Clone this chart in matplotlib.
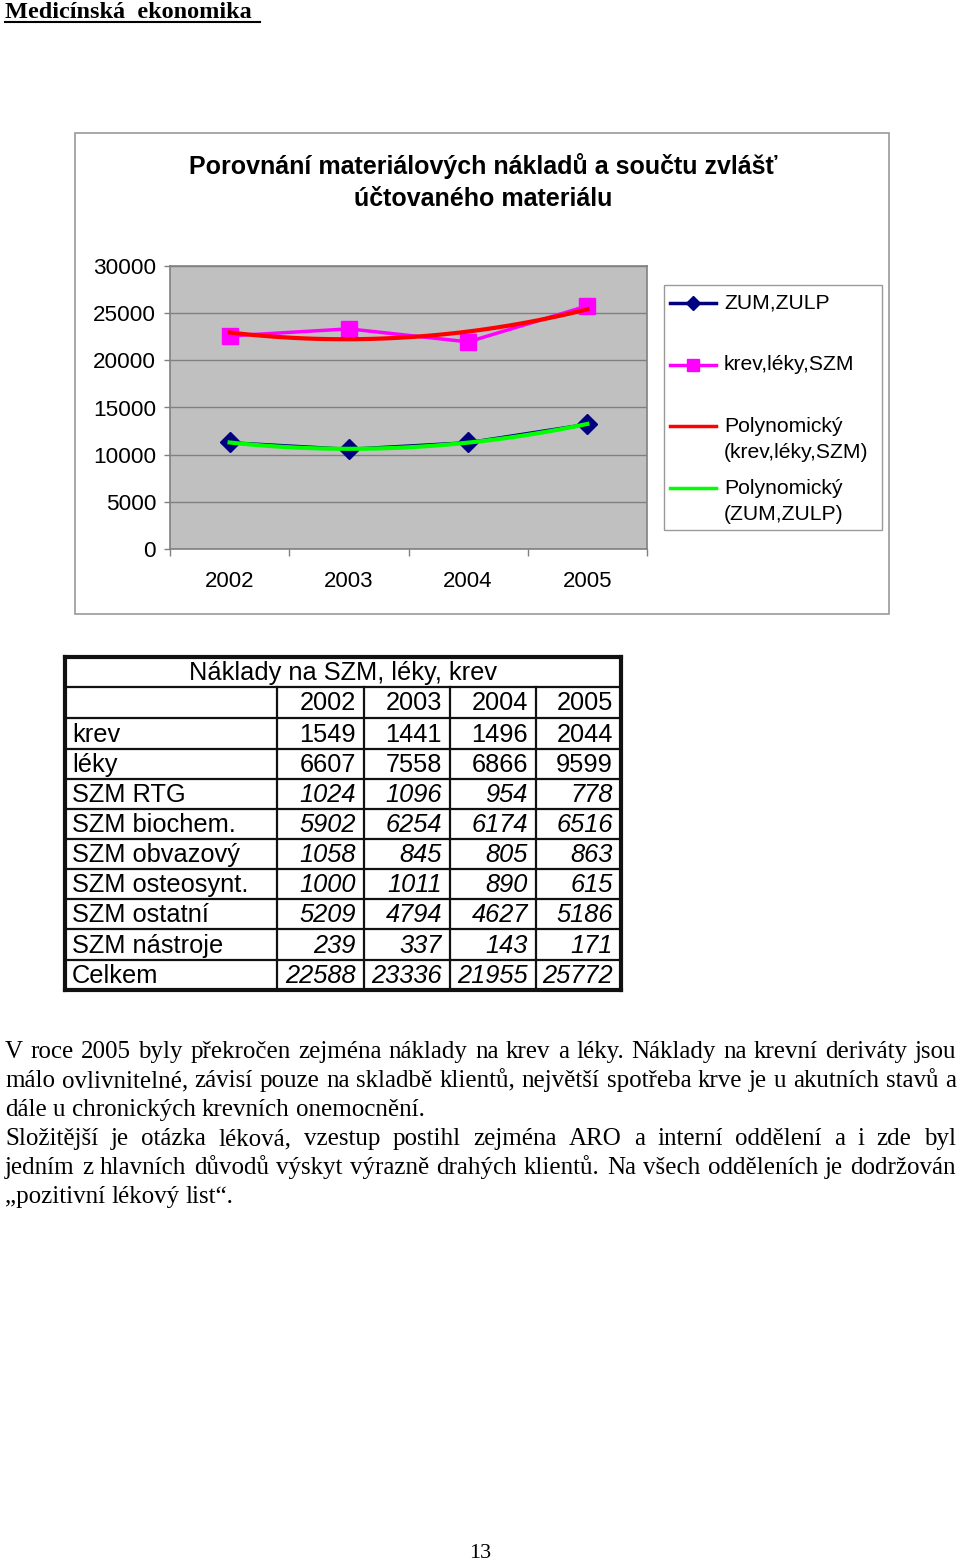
import numpy as np
import matplotlib
matplotlib.use("Agg")
import matplotlib.pyplot as plt
from matplotlib.lines import Line2D
from matplotlib.patches import Rectangle

# ---------------- data ----------------
years = ["2002", "2003", "2004", "2005"]
zum_zulp = [11300, 10600, 11300, 13250]
krev_leky_szm = [22588, 23336, 21955, 25772]
y_ticks = [0, 5000, 10000, 15000, 20000, 25000, 30000]

series_names = ["ZUM,ZULP", "krev,léky,SZM",
                "Polynomický\n(krev,léky,SZM)", "Polynomický\n(ZUM,ZULP)"]

table_title = "Náklady na SZM, léky, krev"
row_labels = ["krev", "léky", "SZM RTG", "SZM biochem.", "SZM obvazový",
              "SZM osteosynt.", "SZM ostatní", "SZM nástroje", "Celkem"]
row_krev = [1549, 1441, 1496, 2044]
row_leky = [6607, 7558, 6866, 9599]
row_rtg = [1024, 1096, 954, 778]
row_biochem = [5902, 6254, 6174, 6516]
row_obvaz = [1058, 845, 805, 863]
row_osteo = [1000, 1011, 890, 615]
row_ostatni = [5209, 4794, 4627, 5186]
row_nastroje = [239, 337, 143, 171]
row_celkem = [22588, 23336, 21955, 25772]
table_rows = [row_krev, row_leky, row_rtg, row_biochem, row_obvaz,
              row_osteo, row_ostatni, row_nastroje, row_celkem]
italic_rows = [False, False, True, True, True, True, True, True, True]

page_title = "Medicínská  ekonomika"
chart_title_lines = ["Porovnání materiálových nákladů a součtu zvlášť",
                     "účtovaného materiálu"]
paragraph_lines = [
    ("V roce 2005 byly překročen zejména náklady na krev a léky. Náklady na krevní deriváty jsou", True),
    ("málo ovlivnitelné, závisí pouze na skladbě klientů, největší spotřeba krve je u akutních stavů a", True),
    ("dále u chronických krevních onemocnění.", False),
    ("Složitější je otázka léková,  vzestup postihl zejména ARO a interní oddělení a i zde byl", True),
    ("jedním z hlavních důvodů výskyt výrazně drahých klientů. Na všech odděleních je dodržován", True),
    ("„pozitivní lékový list“.", False),
]
page_number = "13"

# ---------------- figure ----------------
W, H = 960, 1565
fig = plt.figure(figsize=(W / 100, H / 100), dpi=100)
fig.patch.set_facecolor("white")

def fx(x):
    return x / W

def fy(y):
    return 1 - y / H

SANS = "Liberation Sans"
SERIF = "Liberation Serif"

# page title
fig.text(fx(5), fy(18), page_title, fontsize=17.5, fontweight="bold",
         family=SERIF, ha="left", va="baseline")
fig.add_artist(Line2D([fx(5), fx(260)], [fy(21.5), fy(21.5)], color="black", lw=1.5))

# chart outer frame
fig.add_artist(Rectangle((fx(75), fy(614)), fx(889) - fx(75), fy(133) - fy(614),
                         transform=fig.transFigure, facecolor="white",
                         edgecolor="#9a9a9a", lw=1.2, zorder=0))

for yy, line in zip([166, 199], chart_title_lines):
    fig.text(fx(483), fy(yy), line, fontsize=18, fontweight="bold",
             family=SANS, ha="center", va="center")

# plot area
ax = fig.add_axes([fx(170), fy(549), fx(647) - fx(170), fy(266) - fy(549)])
ax.set_facecolor("#C0C0C0")
x = np.arange(len(years))
ax.set_xlim(-0.5, len(years) - 0.5)
ax.set_ylim(0, 30000)
ax.set_yticks(y_ticks)
ax.set_yticklabels([str(v) for v in y_ticks], fontsize=16.2, family=SANS)
ax.yaxis.grid(True, color="#808080", lw=1)
ax.set_axisbelow(True)
ax.set_xticks(np.arange(len(years) + 1) - 0.5)
ax.set_xticklabels([])
ax.set_xticks(x, minor=True)
ax.set_xticklabels(years, minor=True, fontsize=16, family=SANS)
ax.tick_params(axis="x", which="minor", length=0, pad=16)
ax.tick_params(axis="x", which="major", length=5, color="#808080", width=1)
ax.tick_params(axis="y", length=4, color="#808080", width=1, pad=6)
for s in ax.spines.values():
    s.set_color("#808080")
    s.set_linewidth(1.2)

ax.plot(x, zum_zulp, color="#000080", lw=2, marker="D", markersize=10,
        markerfacecolor="#000080", markeredgecolor="#000080", zorder=3)
ax.plot(x, krev_leky_szm, color="#FF00FF", lw=2.5, marker="s", markersize=12,
        markerfacecolor="#FF00FF", markeredgecolor="#FF00FF", zorder=3)

xs = np.linspace(0, len(years) - 1, 100)
p_red = np.polyfit(x, krev_leky_szm, 2)
p_green = np.polyfit(x, zum_zulp, 2)
ax.plot(xs, np.polyval(p_red, xs), color="#FF0000", lw=3, zorder=4)
ax.plot(xs, np.polyval(p_green, xs), color="#00FF00", lw=3, zorder=4)

# legend (manual)
fig.add_artist(Rectangle((fx(664), fy(530)), fx(882) - fx(664), fy(285) - fy(530),
                         transform=fig.transFigure, facecolor="white",
                         edgecolor="#9a9a9a", lw=1.0, zorder=1))
leg_items = [
    (303, "#000080", "D", 7, series_names[0]),
    (365, "#FF00FF", "s", 8, series_names[1]),
    (426, "#FF0000", None, 0, series_names[2]),
    (488, "#00FF00", None, 0, series_names[3]),
]
LFS = 15.2
for yy, col, mk, ms, lab in leg_items:
    fig.add_artist(Line2D([fx(670), fx(716)], [fy(yy), fy(yy)], color=col, lw=2.5,
                          zorder=2))
    if mk:
        fig.add_artist(Line2D([fx(693)], [fy(yy)], marker=mk, markersize=ms,
                              color=col, markerfacecolor=col, markeredgecolor=col,
                              zorder=3))
    parts = lab.split("\n")
    for k, p in enumerate(parts):
        fig.text(fx(724), fy(yy + 26 * k), p, fontsize=LFS, family=SANS,
                 ha="left", va="center")

# ---------------- table ----------------
col_x = [65, 277, 364, 450, 536, 621]
row_y = [657, 687, 718, 749, 779, 809, 839, 869, 899, 929, 960, 990]
LW_IN = 1.6
LW_OUT = 3.0
TC = "#111111"

def hline(x0, x1, y, lw):
    fig.add_artist(Line2D([fx(x0), fx(x1)], [fy(y), fy(y)], color=TC, lw=lw,
                          solid_capstyle="projecting"))

def vline(x0, y0, y1, lw):
    fig.add_artist(Line2D([fx(x0), fx(x0)], [fy(y0), fy(y1)], color=TC, lw=lw,
                          solid_capstyle="projecting"))

for yy in row_y[1:-1]:
    hline(col_x[0], col_x[-1], yy, LW_IN)
for xx in col_x[1:-1]:
    vline(xx, row_y[1], row_y[-1], LW_IN)
hline(col_x[0], col_x[-1], row_y[0], LW_OUT)
hline(col_x[0], col_x[-1], row_y[-1], LW_OUT)
vline(col_x[0], row_y[0], row_y[-1], LW_OUT)
vline(col_x[-1], row_y[0], row_y[-1], LW_OUT)

TFS = 18.3
fig.text(fx(343), fy((row_y[0] + row_y[1]) / 2 + 1),
         table_title, fontsize=TFS, family=SANS, ha="center", va="center")
for j, yr in enumerate(years):
    fig.text(fx(col_x[j + 2] - 8), fy((row_y[1] + row_y[2]) / 2 + 1), yr,
             fontsize=TFS, family=SANS, ha="right", va="center")
for i, (lab, vals) in enumerate(zip(row_labels, table_rows)):
    yc = (row_y[i + 2] + row_y[i + 3]) / 2 + 1
    fig.text(fx(col_x[0] + 7), fy(yc), lab, fontsize=TFS, family=SANS,
             ha="left", va="center")
    for j, v in enumerate(vals):
        fig.text(fx(col_x[j + 2] - 8), fy(yc), str(v), fontsize=TFS, family=SANS,
                 ha="right", va="center",
                 style="italic" if italic_rows[i] else "normal")

# ---------------- paragraph (justified) ----------------
PFS = 18
renderer = fig.canvas.get_renderer()
left, right = 5, 956
y0 = 1052
for k, (line, justify) in enumerate(paragraph_lines):
    yy = y0 + k * 29
    words = [w for w in line.split(" ") if w != ""]
    arts = []
    widths = []
    for w in words:
        t = fig.text(0, 0, w, fontsize=PFS, family=SERIF, ha="left", va="center")
        bb = t.get_window_extent(renderer=renderer)
        widths.append(bb.width)
        arts.append(t)
    sp = fig.text(0, 0, "a a", fontsize=PFS, family=SERIF)
    space_w = sp.get_window_extent(renderer=renderer).width - \
        2 * fig.text(0, 0, "a", fontsize=PFS, family=SERIF).get_window_extent(renderer=renderer).width
    for a in fig.texts[-2:]:
        a.set_visible(False)
    total = sum(widths)
    if justify:
        gap = (right - left - total) / (len(words) - 1)
        scale = 1.0
        if gap < 2:
            gap = 2
            scale = (right - left - gap * (len(words) - 1)) / total
    else:
        gap = space_w
        scale = 1.0
    cx = left
    for t, wdt in zip(arts, widths):
        t.set_position((fx(cx), fy(yy)))
        if scale != 1.0:
            t.set_fontsize(PFS * scale)
        cx += wdt * scale + gap

fig.text(fx(480), fy(1553), page_number, fontsize=16, family=SERIF,
         ha="center", va="center")

fig.savefig("out.png", dpi=100, facecolor="white")
